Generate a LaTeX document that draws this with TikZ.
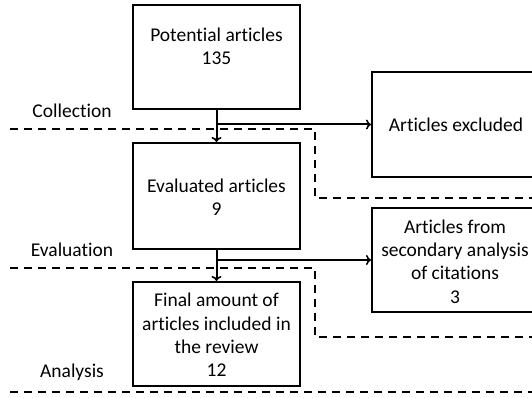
\documentclass[tikz,border=0pt]{standalone}
\usepackage{fontspec}
\setmainfont{Carlito}[Ligatures=NoCommon]
\usetikzlibrary{arrows.meta}
\begin{document}
\begin{tikzpicture}[x=1pt,y=-1pt,
  box/.style={draw, line width=2pt, inner sep=0pt},
  txt/.style={align=center, font=\fontsize{19.5}{23.3}\selectfont, inner sep=0pt},
  lbl/.style={font=\fontsize{19.5}{23}\selectfont, inner sep=0pt},
  sep/.style={line width=2.2pt, dash pattern=on 8pt off 6pt},
  arr/.style={line width=2pt, -{To[length=5pt,width=10pt,line width=1.6pt]}}]
\useasboundingbox (0,0) rectangle (532,398);
\clip (0,0) rectangle (532,398);
% boxes
\node[box, minimum width=167pt, minimum height=104pt] (p1) at (216.5,57) {};
\node[txt] (p1t) at (216.5,58) {Potential articles\\135\\\mbox{}};
\node[box, minimum width=167pt, minimum height=106pt] (ev) at (216.5,196) {};
\node[txt] (evt) at (216.5,197) {Evaluated articles\\9};
\node[box, minimum width=167pt, minimum height=104pt] (fi) at (216.5,334) {};
\node[txt] (fit) at (216.5,335) {Final amount of\\articles included in\\the review\\12};
\node[box, minimum width=168pt, minimum height=105pt] (ex) at (456,124.5) {};
\node[txt] (ext) at (456,125) {Articles excluded};
\node[box, minimum width=168pt, minimum height=104pt] (af) at (456,260) {};
\node[txt] (aft) at (455,261.5) {Articles from\\secondary analysis\\of citations\\3};
% phase labels
\node[lbl] (c1) at (72,111) {Collection};
\node[lbl] (c2) at (72,250) {Evaluation};
\node[lbl] (c3) at (72,372) {Analysis};
% separators
\draw[sep] (10,129) -- (315,129) -- (315,198) -- (540,198);
\draw[sep] (10,268) -- (315,268) -- (315,337) -- (540,337);
\draw[sep] (10,392) -- (540,392);
% connectors
\draw[arr] (p1.south) -- (ev.north);
\draw[arr] (p1.south |- ex.west) -- (ex.west);
\draw[arr] (ev.south) -- (fi.north);
\draw[arr] (ev.south |- af.west) -- (af.west);
\end{tikzpicture}
\end{document}
